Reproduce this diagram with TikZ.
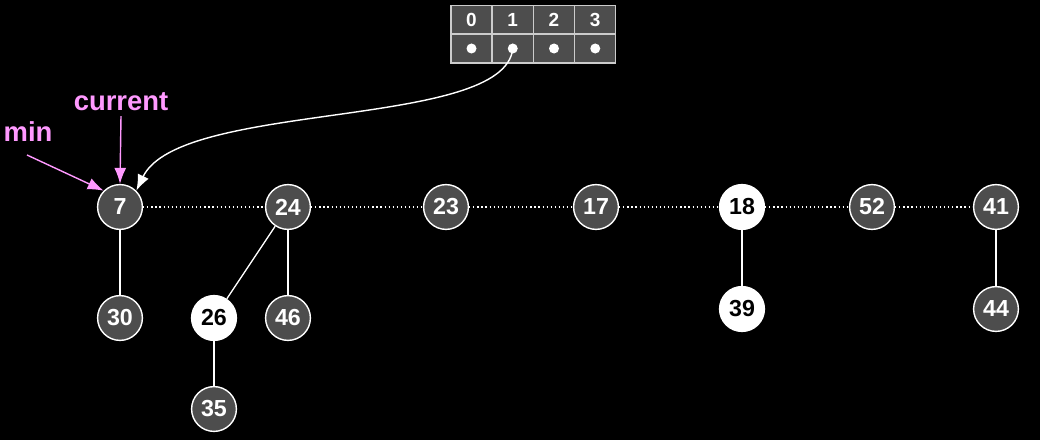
\documentclass[tikz,border=0pt]{standalone}
\usepackage{fontspec}
\setmainfont{Liberation Sans}
\usetikzlibrary{arrows.meta}
\definecolor{nodegray}{RGB}{77,77,77}
\definecolor{ptr}{RGB}{255,153,255}

\begin{document}
\begin{tikzpicture}[
  x=0.025cm, y=-0.025cm, >={Latex[length=4mm,width=3mm]},
  key/.style={circle, draw=white, line width=1pt, fill=nodegray, text=white, minimum size=1.12cm, inner sep=0pt, font=\fontsize{16.5}{18}\selectfont\bfseries},
  marked/.style={key, fill=white, text=black},
  cell/.style={draw=white!80!black, line width=0.9pt, fill=nodegray, text=white, minimum width=1.03cm, minimum height=0.72cm, inner sep=0pt, font=\fontsize{13.5}{14}\selectfont\bfseries},
  root/.style={white, dotted, line width=0.9pt}, child/.style={white, line width=0.9pt},
  label/.style={text=ptr, font=\fontsize{19.5}{22}\selectfont\bfseries}, point/.style={->, ptr, line width=1pt},
]
  \fill[black] (0,0) rectangle (1040,440);
  \useasboundingbox (0,0) rectangle (1040,440);
  % root list
  \node[key]    (n7)  at (120,207) {7};
  \node[key]    (n24) at (288,207) {24};
  \node[key]    (n23) at (446,207) {23};
  \node[key]    (n17) at (596,207) {17};
  \node[marked] (n18) at (742,207) {18};
  \node[key]    (n52) at (872,207) {52};
  \node[key]    (n41) at (996,207) {41};
  % children
  \node[key]    (n30) at (120,318) {30};
  \node[marked] (n26) at (214,318) {26};
  \node[key]    (n46) at (288,318) {46};
  \node[key]    (n35) at (214,409) {35};
  \node[marked] (n39) at (742,309) {39};
  \node[key]    (n44) at (996,309) {44};
  \draw[root] (n7) -- (n24) -- (n23) -- (n17) -- (n18) -- (n52) -- (n41);
  \draw[child] (n7) -- (n30);
  \draw[child] (n24) -- (n26);
  \draw[child] (n24) -- (n46);
  \draw[child] (n26) -- (n35);
  \draw[child] (n18) -- (n39);
  \draw[child] (n41) -- (n44);
  % degree array
  \foreach \i in {0,...,3} {
    \node[cell] (c\i) at (471.5+41.25*\i,20) {\i};
    \node[cell] (d\i) at (471.5+41.25*\i,48.5) {};
    \fill[white] (d\i.center) circle (0.125cm);
  }
  \draw[->, white, line width=1pt] (d1.center) .. controls (505,130) and (180,100) .. (n7.north east);
  % pointers
  \node[label] (cur) at (121,102) {current};
  \node[label] (mn)  at (28,132) {min};
  \coordinate (mntail) at (27,155);
  \draw[point] (cur.south) -- (n7.north);
  \draw[point] (mntail) -- (n7.north west);
\end{tikzpicture}
\end{document}
